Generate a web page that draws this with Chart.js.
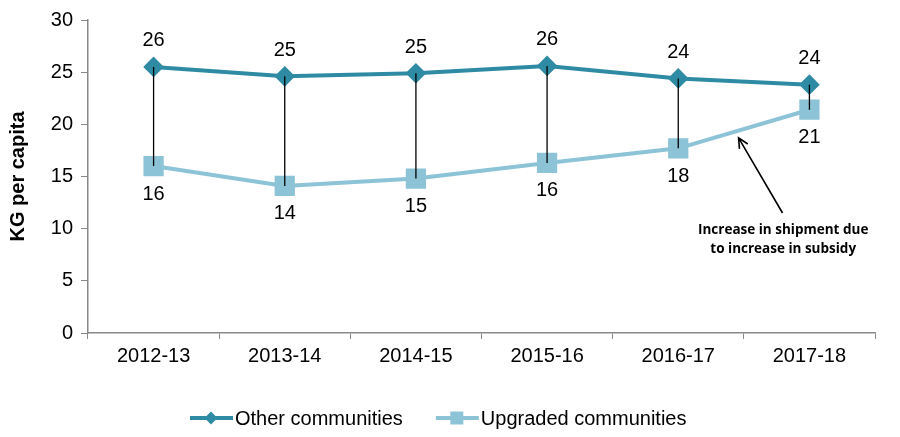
<!DOCTYPE html>
<html>
<head>
<meta charset="utf-8">
<script src="https://cdn.jsdelivr.net/npm/chart.js@4"></script>
<style>
  html, body { margin: 0; padding: 0; background: #fff; }
  #wrap { width: 900px; height: 437px; }
</style>
</head>
<body>
<div id="wrap"><canvas id="kgChart"></canvas></div>
<script>
const years = ['2012-13', '2013-14', '2014-15', '2015-16', '2016-17', '2017-18'];
const otherCommunities = [25.5, 24.6, 24.9, 25.6, 24.4, 23.8];
const upgradedCommunities = [16.0, 14.1, 14.8, 16.3, 17.7, 21.4];
const yTicks = [0, 5, 10, 15, 20, 25, 30];

const darkTeal = '#2f8ba4';
const lightTeal = '#8cc3d6';
const font = 'Arial, "Liberation Sans", sans-serif';

// black high-low lines + value labels + annotation + legend
const extras = {
    id: 'extras',
    afterDatasetsDraw(chart) {
        const ctx = chart.ctx;
        const top = chart.getDatasetMeta(0).data;
        const bot = chart.getDatasetMeta(1).data;
        ctx.save();
        ctx.strokeStyle = '#000';
        ctx.lineWidth = 1.3;
        top.forEach((p, i) => {
            ctx.beginPath();
            ctx.moveTo(p.x, p.y);
            ctx.lineTo(bot[i].x, bot[i].y);
            ctx.stroke();
        });
        ctx.restore();
    },
    afterDraw(chart) {
        const ctx = chart.ctx;
        const xs = chart.scales.x, ys = chart.scales.y;
        const top = chart.getDatasetMeta(0).data;
        const bot = chart.getDatasetMeta(1).data;
        ctx.save();
        ctx.fillStyle = '#000';
        ctx.font = '20px ' + font;
        ctx.textAlign = 'center';
        ctx.textBaseline = 'middle';
        top.forEach((p, i) => ctx.fillText(Math.round(otherCommunities[i]), p.x, p.y - 26));
        bot.forEach((p, i) => ctx.fillText(Math.round(upgradedCommunities[i]), p.x, p.y + 28));

        // annotation arrow
        const tipX = xs.getPixelForValue(4.46), tipY = ys.getPixelForValue(18.7);
        const tailX = xs.getPixelForValue(4.795), tailY = ys.getPixelForValue(11.5);
        ctx.strokeStyle = '#000';
        ctx.lineWidth = 1.6;
        ctx.beginPath();
        ctx.moveTo(tailX, tailY);
        ctx.lineTo(tipX, tipY);
        const ang = Math.atan2(tipY - tailY, tipX - tailX);
        ctx.moveTo(tipX - 11 * Math.cos(ang - 0.45), tipY - 11 * Math.sin(ang - 0.45));
        ctx.lineTo(tipX, tipY);
        ctx.lineTo(tipX - 11 * Math.cos(ang + 0.45), tipY - 11 * Math.sin(ang + 0.45));
        ctx.stroke();

        ctx.font = 'bold 13.5px "Open Sans", sans-serif';
        const tx = xs.getPixelForValue(4.8);
        ctx.fillText('Increase in shipment due', tx, ys.getPixelForValue(9.9));
        ctx.fillText('to increase in subsidy', tx, ys.getPixelForValue(8.0));

        // legend
        const items = [
            { label: 'Other communities', color: darkTeal, style: 'diamond' },
            { label: 'Upgraded communities', color: lightTeal, style: 'square' }
        ];
        ctx.font = '20px ' + font;
        ctx.textAlign = 'left';
        let lx = 190;
        const ly = 418;
        items.forEach(it => {
            ctx.strokeStyle = it.color;
            ctx.fillStyle = it.color;
            ctx.lineWidth = 4;
            ctx.beginPath();
            ctx.moveTo(lx, ly);
            ctx.lineTo(lx + 43, ly);
            ctx.stroke();
            const cx = lx + 21;
            ctx.beginPath();
            if (it.style === 'diamond') {
                ctx.moveTo(cx, ly - 6.5); ctx.lineTo(cx + 6.5, ly); ctx.lineTo(cx, ly + 6.5); ctx.lineTo(cx - 6.5, ly);
                ctx.closePath();
            } else {
                ctx.rect(cx - 6.5, ly - 6.5, 13, 13);
            }
            ctx.fill();
            ctx.fillStyle = '#000';
            ctx.fillText(it.label, lx + 45, ly + 1);
            lx += 45 + ctx.measureText(it.label).width + 33;
        });
        ctx.restore();
    }
};

new Chart(document.getElementById('kgChart'), {
    type: 'line',
    data: {
        labels: years,
        datasets: [{
            label: 'Other communities',
            data: otherCommunities,
            borderColor: darkTeal,
            backgroundColor: darkTeal,
            borderWidth: 4,
            pointStyle: 'rectRot',
            pointRadius: 7.5,
            pointHoverRadius: 7.5,
            tension: 0
        }, {
            label: 'Upgraded communities',
            data: upgradedCommunities,
            borderColor: lightTeal,
            backgroundColor: lightTeal,
            borderWidth: 4,
            pointStyle: 'rect',
            pointRadius: 11.5,
            pointHoverRadius: 11.5,
            tension: 0
        }]
    },
    options: {
        responsive: true,
        maintainAspectRatio: false,
        animation: false,
        layout: { padding: { top: 8, right: 25, left: 6, bottom: 60 } },
        plugins: {
            legend: { display: false },
            tooltip: { enabled: false }
        },
        scales: {
            x: {
                offset: true,
                afterFit: s => { s.height = 44; },
                grid: { offset: true, drawOnChartArea: false, tickLength: 6, color: '#888' },
                border: { color: '#888', width: 1.5 },
                ticks: { color: '#000', font: { size: 20, family: font }, padding: 5 }
            },
            y: {
                min: 0,
                max: 30,
                afterFit: s => { s.width = 82; },
                afterBuildTicks: s => { s.ticks = yTicks.map(v => ({ value: v })); },
                title: { display: true, text: 'KG per capita', color: '#000', font: { size: 20, weight: 'bold', family: font }, padding: 0 },
                grid: { drawOnChartArea: false, tickLength: 7, color: '#888' },
                border: { color: '#888', width: 1.5 },
                ticks: { color: '#000', font: { size: 20, family: font }, padding: 8 }
            }
        }
    },
    plugins: [extras]
});
</script>
</body>
</html>
